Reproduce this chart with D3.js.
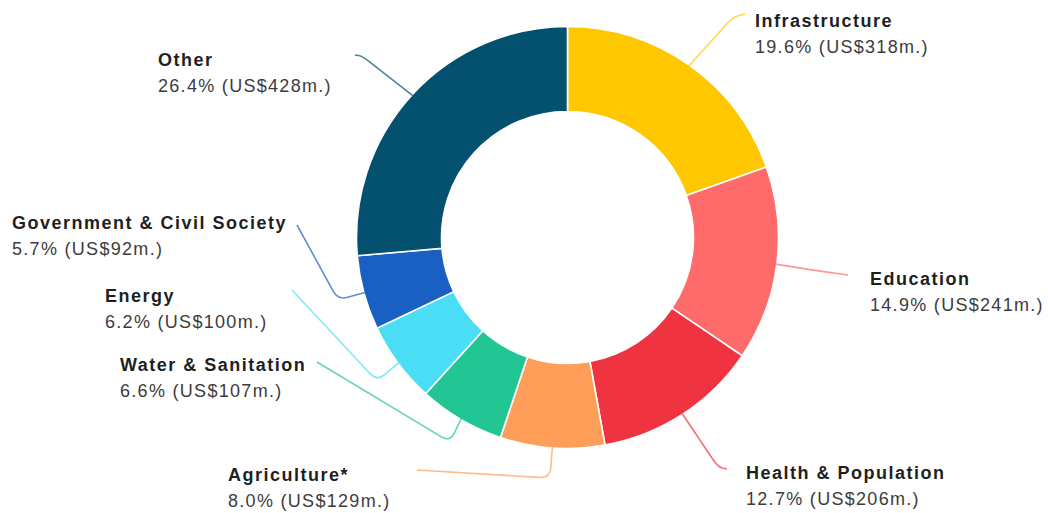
<!DOCTYPE html>
<html>
<head>
<meta charset="utf-8">
<script src="https://cdn.jsdelivr.net/npm/d3@7"></script>
<style>
  html, body { margin: 0; padding: 0; background: #fff; }
  svg { display: block; }
  .name { font-family: "Liberation Sans", Arial, sans-serif; font-weight: bold; font-size: 18px; letter-spacing: 1.5px; fill: #1f1f1f; }
  .val { font-family: "Liberation Sans", Arial, sans-serif; font-size: 18px; letter-spacing: 1.3px; fill: #3c3c3c; }
</style>
</head>
<body>
<svg id="chart" width="1048" height="513"></svg>
<script>
// Sector shares of spending, clockwise from 12 o'clock
const sectors = ["Infrastructure", "Education", "Health & Population", "Agriculture*",
                 "Water & Sanitation", "Energy", "Government & Civil Society", "Other"];
const shares  = [19.6, 14.9, 12.7, 8.0, 6.6, 6.2, 5.7, 26.4];
const amounts = [318, 241, 206, 129, 107, 100, 92, 428];
const colors  = ["#FFC700", "#FF6B6B", "#EF3340", "#FF9E58",
                 "#22C594", "#4CDDF6", "#1A5FC2", "#03506F"];

// Layout: donut geometry and label placement
const cx = 567.5, cy = 237.5, rOuter = 211, rInner = 126;
const labelPos = [ // [x, name baseline]
  [755, 27], [870, 285], [746, 479], [228, 481],
  [120, 371], [105, 302], [12, 229], [158, 66]
];
const leaderBends = [ // [elbow, end] of each connector
  [[733, 17], [745, 14]],
  [[812, 270], [848, 275]],
  [[718, 467], [727, 469]],
  [[550, 478], [417, 470]],
  [[450, 442], [317, 362]],
  [[377, 381], [292, 290]],
  [[338, 300], [297, 225]],
  [[362, 56], [355, 55]]
];

const svg = d3.select("#chart");
const g = svg.append("g").attr("transform", `translate(${cx},${cy})`);

const pie = d3.pie().sort(null).value(d => d.share);
const rows = sectors.map((s, i) => ({ sector: s, share: shares[i], amount: amounts[i], color: colors[i], i }));
const arcs = pie(rows);

const arc = d3.arc().innerRadius(rInner).outerRadius(rOuter);

g.selectAll("path.slice")
  .data(arcs)
  .join("path")
  .attr("class", "slice")
  .attr("d", arc)
  .attr("fill", d => d.data.color)
  .attr("stroke", "#ffffff")
  .attr("stroke-width", 1.6);

// Connector with a rounded elbow
function leaderPath(p0, p1, p2, r) {
  const d01 = Math.hypot(p0[0] - p1[0], p0[1] - p1[1]);
  const d21 = Math.hypot(p2[0] - p1[0], p2[1] - p1[1]);
  const ra = Math.min(r, d01 / 2), rb = Math.min(r, d21 / 2);
  const a = [p1[0] + (p0[0] - p1[0]) * ra / d01, p1[1] + (p0[1] - p1[1]) * ra / d01];
  const b = [p1[0] + (p2[0] - p1[0]) * rb / d21, p1[1] + (p2[1] - p1[1]) * rb / d21];
  const path = d3.path();
  path.moveTo(p0[0], p0[1]);
  path.lineTo(a[0], a[1]);
  path.quadraticCurveTo(p1[0], p1[1], b[0], b[1]);
  path.lineTo(p2[0], p2[1]);
  return path.toString();
}

svg.append("g").selectAll("path.leader")
  .data(arcs)
  .join("path")
  .attr("class", "leader")
  .attr("d", d => {
    const mid = (d.startAngle + d.endAngle) / 2;
    const p = d3.pointRadial(mid, rOuter - 1);
    const start = [cx + p[0], cy + p[1]];
    const [elbow, end] = leaderBends[d.data.i];
    return leaderPath(start, elbow, end, 10);
  })
  .attr("fill", "none")
  .attr("stroke", d => d.data.color)
  .attr("stroke-opacity", 0.7)
  .attr("stroke-width", 1.6);

// Labels: sector name and share / amount
const labels = svg.append("g").selectAll("g.label")
  .data(arcs)
  .join("g")
  .attr("class", "label")
  .attr("transform", d => `translate(${labelPos[d.data.i][0]},${labelPos[d.data.i][1]})`);

labels.append("text")
  .attr("class", "name")
  .text(d => d.data.sector);

labels.append("text")
  .attr("class", "val")
  .attr("y", 26)
  .text(d => `${d.data.share.toFixed(1)}% (US$${d.data.amount}m.)`);
</script>
</body>
</html>
